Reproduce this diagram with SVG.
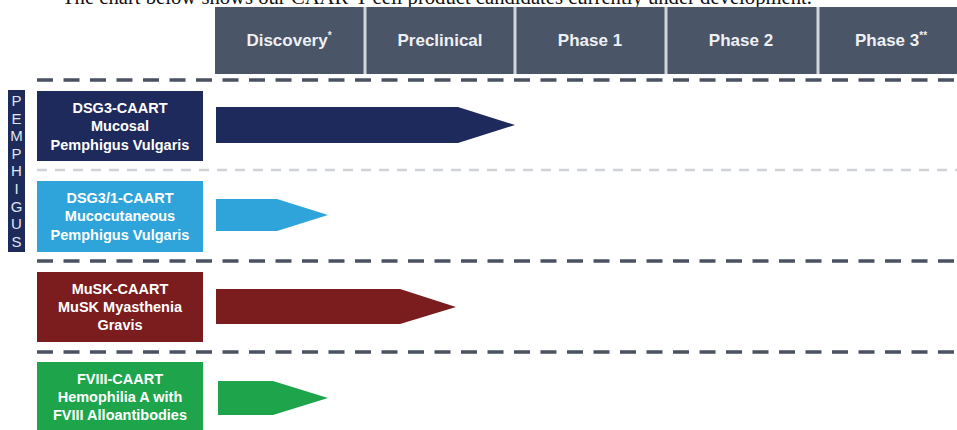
<svg xmlns="http://www.w3.org/2000/svg" width="957" height="430" viewBox="0 0 957 430">
  <style>
    .hdr { fill: #4a5568; }
    .sep { stroke: #d3d7dc; stroke-width: 3; }
    .htxt { font-family: "Liberation Sans", Arial, sans-serif; font-weight: bold; font-size: 17px; fill: #eef0f3; text-anchor: middle; }
    .ntxt { font-family: "Liberation Sans", Arial, sans-serif; font-weight: bold; font-size: 14.5px; fill: #ffffff; text-anchor: middle; }
    .dark { stroke: #4a5262; stroke-width: 3.5; stroke-dasharray: 16 10.5; fill: none; }
    .light { stroke: #cfd2d7; stroke-width: 2.5; stroke-dasharray: 10 8; fill: none; }
    .vtxt { font-family: "Liberation Sans", Arial, sans-serif; font-size: 15px; fill: #dfe6f2; text-anchor: middle; }
  </style>
  <rect width="957" height="430" fill="#ffffff"/>
  <text x="62" y="4" textLength="750" lengthAdjust="spacingAndGlyphs" font-family="Liberation Serif, 'Times New Roman', serif" font-size="20" fill="#111">The chart below shows our CAAR-T cell product candidates currently under development.</text>

  <g id="header">
    <rect class="hdr" x="215" y="7" width="742" height="67"/>
    <line class="sep" x1="365" y1="7" x2="365" y2="74"/>
    <line class="sep" x1="515" y1="7" x2="515" y2="74"/>
    <line class="sep" x1="666" y1="7" x2="666" y2="74"/>
    <line class="sep" x1="818" y1="7" x2="818" y2="74"/>
    <text class="htxt" x="289" y="46">Discovery<tspan font-size="10" dy="-7">*</tspan></text>
    <text class="htxt" x="440" y="46">Preclinical</text>
    <text class="htxt" x="590" y="46">Phase 1</text>
    <text class="htxt" x="741" y="46">Phase 2</text>
    <text class="htxt" x="891" y="46">Phase 3<tspan font-size="10" dy="-7">**</tspan></text>
  </g>

  <g id="dividers">
    <line class="dark" x1="37" y1="80" x2="957" y2="80"/>
    <line class="light" x1="37" y1="170" x2="957" y2="170"/>
    <line class="dark" x1="37" y1="261" x2="957" y2="261"/>
    <line class="dark" x1="37" y1="352" x2="957" y2="352"/>
  </g>

  <g id="pemphigus-label">
    <rect x="8" y="90" width="17" height="162" fill="#1e2a5a"/>
    <text class="vtxt" x="16.5" y="106">P</text>
    <text class="vtxt" x="16.5" y="123.6">E</text>
    <text class="vtxt" x="16.5" y="141.2">M</text>
    <text class="vtxt" x="16.5" y="158.8">P</text>
    <text class="vtxt" x="16.5" y="176.4">H</text>
    <text class="vtxt" x="16.5" y="194">I</text>
    <text class="vtxt" x="16.5" y="211.6">G</text>
    <text class="vtxt" x="16.5" y="229.2">U</text>
    <text class="vtxt" x="16.5" y="246.8">S</text>
  </g>

  <g id="dsg3">
    <rect x="37" y="91" width="166" height="70" fill="#1f2a5c"/>
    <text class="ntxt" x="120" y="113">DSG3-CAART</text>
    <text class="ntxt" x="120" y="131">Mucosal</text>
    <text class="ntxt" x="120" y="150">Pemphigus Vulgaris</text>
  </g>
  <g id="dsg31">
    <rect x="37" y="181" width="166" height="71" fill="#2ea4db"/>
    <text class="ntxt" x="120" y="203">DSG3/1-CAART</text>
    <text class="ntxt" x="120" y="221">Mucocutaneous</text>
    <text class="ntxt" x="120" y="240">Pemphigus Vulgaris</text>
  </g>
  <g id="musk">
    <rect x="37" y="272" width="166" height="70" fill="#7b1c1e"/>
    <text class="ntxt" x="120" y="294">MuSK-CAART</text>
    <text class="ntxt" x="120" y="312">MuSK Myasthenia</text>
    <text class="ntxt" x="120" y="330">Gravis</text>
  </g>
  <g id="fviii">
    <rect x="37" y="362" width="166" height="68" fill="#1ea54b"/>
    <text class="ntxt" x="120" y="384">FVIII-CAART</text>
    <text class="ntxt" x="120" y="402">Hemophilia A with</text>
    <text class="ntxt" x="120" y="420">FVIII Alloantibodies</text>
  </g>

  <g id="connectors">
    <polygon points="216,107 458,107 515,125 458,143 216,143" fill="#1f2a5c"/>
    <polygon points="216,199 277,199 328,215 277,231 216,231" fill="#2ea4db"/>
    <polygon points="216,289 400,289 456,307 400,324 216,324" fill="#7b1c1e"/>
    <polygon points="218,381 273,381 328,398 273,415 218,415" fill="#1ea54b"/>
  </g>
</svg>
